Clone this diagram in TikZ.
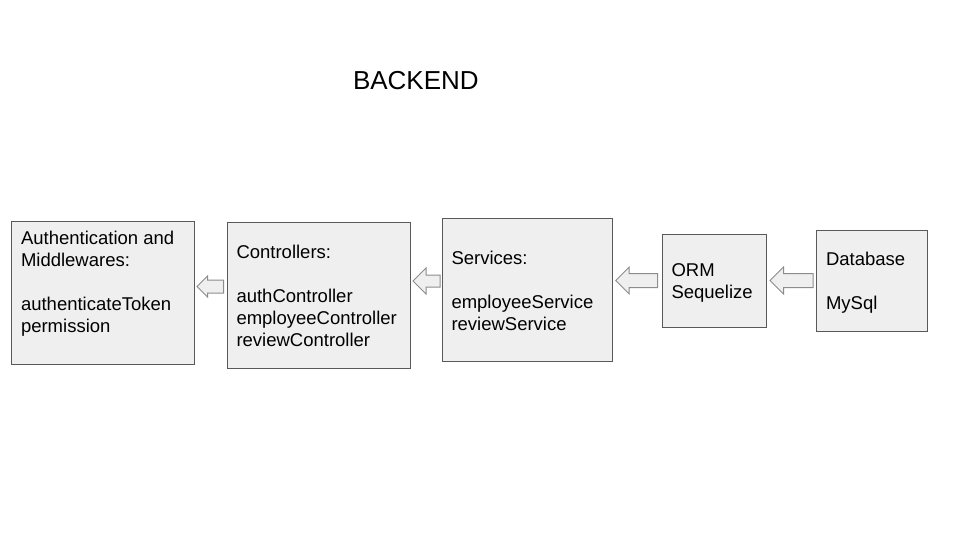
\documentclass[tikz,border=0pt]{standalone}
\usepackage{fontspec}
\setmainfont{Liberation Sans}
\usepackage{xcolor}
\usepackage{tikz}
\usetikzlibrary{calc}
\usetikzlibrary{shapes.arrows}

\definecolor{boxfill}{HTML}{EFEFEF}
\definecolor{boxline}{HTML}{595959}
\definecolor{flowline}{HTML}{8C8C8C}

\begin{document}
\begin{tikzpicture}[x=1pt,y=-1pt]
    \tikzstyle{every node}=[inner sep=0pt,outer sep=0pt,font=\fontsize{18.5}{22}\selectfont]
    \tikzstyle{layer}=[draw=boxline,fill=boxfill,line width=1pt,anchor=north west]
    \tikzstyle{layertext}=[align=left,anchor=north west]
    \tikzstyle{flow}=[single arrow,draw=flowline,fill=boxfill,line width=1pt,shape border rotate=180,anchor=tip]

   \path[fill=white,use as bounding box] (0,0) rectangle (960,540);

   \node[font=\fontsize{26}{30}\selectfont,anchor=base west] (title) at (353,90) {BACKEND};

   \def\toff{9.5};

   \node[layer,minimum width=183pt,minimum height=143pt] (auth) at (11,221) {};
   \node[layertext] (authtext) at ($(auth.north west)+(\toff+0.5,9.7)$)
     {Authentication and\\Middlewares:\\[22pt]authenticateToken\\permission};

   \node[layer,minimum width=183pt,minimum height=146pt] (ctrl) at (227,222) {};
   \node[layertext] (ctrltext) at ($(ctrl.north west)+(\toff,22.7)$)
     {Controllers:\\[22pt]authController\\employeeController\\reviewController};

   \node[layer,minimum width=170pt,minimum height=143pt] (serv) at (442,218) {};
   \node[layertext] (servtext) at ($(serv.north west)+(\toff,32.7)$)
     {Services:\\[22pt]employeeService\\reviewService};

   \node[layer,minimum width=104pt,minimum height=92.5pt] (orm) at (662,234.5) {};
   \node[layertext] (ormtext) at ($(orm.north west)+(\toff,29.2)$)
     {ORM\\Sequelize};

   \node[layer,minimum width=110.5pt,minimum height=100.5pt] (db) at (816.5,230.5) {};
   \node[layertext] (dbtext) at ($(db.north west)+(\toff,21.2)$)
     {Database\\[22pt]MySql};

   \node[flow,minimum height=26.5pt,inner ysep=6pt,minimum width=20pt,single arrow head extend=4pt,xshift=3pt] (ctrl2auth) at (auth.east |- 0,286.5) {};
   \node[flow,minimum height=27pt,inner ysep=5.5pt,minimum width=25pt,single arrow head extend=7pt,xshift=3pt] (serv2ctrl) at (ctrl.east |- 0,281) {};
   \node[flow,minimum height=42pt,inner ysep=6.5pt,minimum width=26pt,single arrow head extend=6.5pt,xshift=3.7pt] (orm2serv) at (serv.east |- 0,280.5) {};
   \node[flow,minimum height=43pt,inner ysep=6.5pt,minimum width=26pt,single arrow head extend=6.5pt,xshift=4pt] (db2orm) at (orm.east |- 0,280.5) {};

  \end{tikzpicture}
\end{document}
